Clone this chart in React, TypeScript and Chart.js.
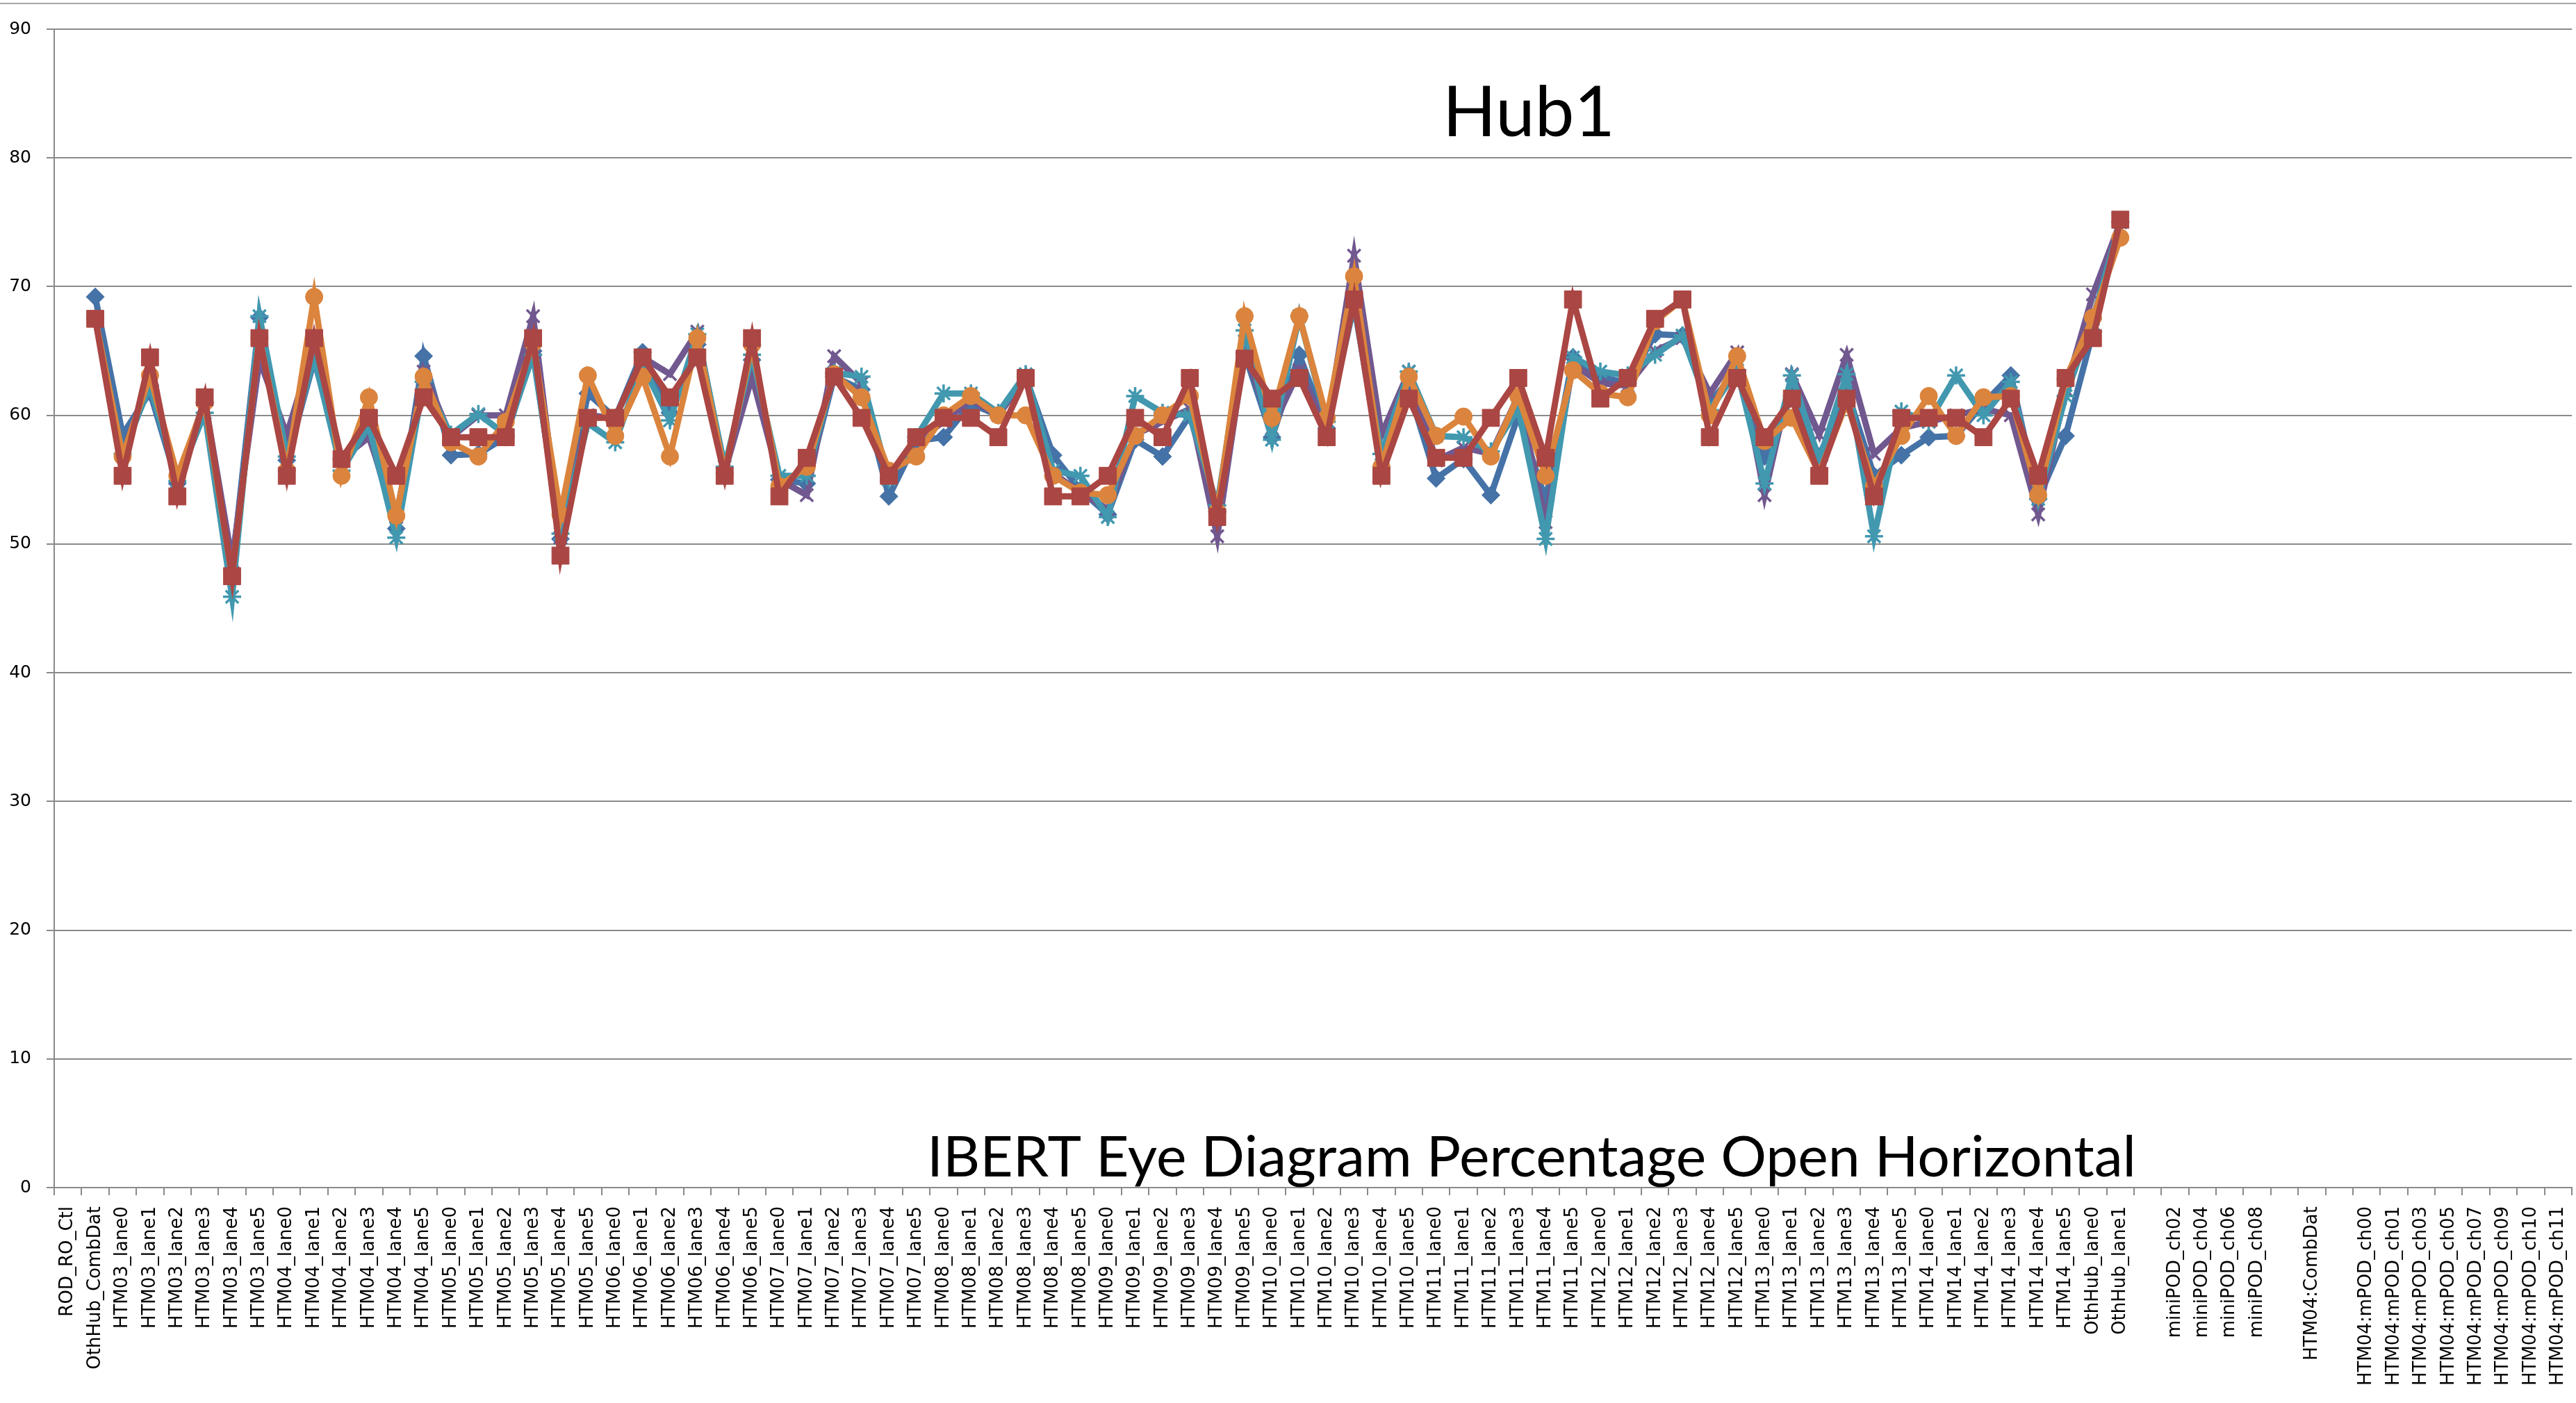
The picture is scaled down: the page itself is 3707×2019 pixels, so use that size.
import React, { useEffect, useRef } from "react";
import { Chart, registerables } from "chart.js";

Chart.register(...registerables);

const categories = [
  "ROD_RO_Ctl", "OthHub_CombDat",
  "HTM03_lane0", "HTM03_lane1", "HTM03_lane2", "HTM03_lane3", "HTM03_lane4", "HTM03_lane5",
  "HTM04_lane0", "HTM04_lane1", "HTM04_lane2", "HTM04_lane3", "HTM04_lane4", "HTM04_lane5",
  "HTM05_lane0", "HTM05_lane1", "HTM05_lane2", "HTM05_lane3", "HTM05_lane4", "HTM05_lane5",
  "HTM06_lane0", "HTM06_lane1", "HTM06_lane2", "HTM06_lane3", "HTM06_lane4", "HTM06_lane5",
  "HTM07_lane0", "HTM07_lane1", "HTM07_lane2", "HTM07_lane3", "HTM07_lane4", "HTM07_lane5",
  "HTM08_lane0", "HTM08_lane1", "HTM08_lane2", "HTM08_lane3", "HTM08_lane4", "HTM08_lane5",
  "HTM09_lane0", "HTM09_lane1", "HTM09_lane2", "HTM09_lane3", "HTM09_lane4", "HTM09_lane5",
  "HTM10_lane0", "HTM10_lane1", "HTM10_lane2", "HTM10_lane3", "HTM10_lane4", "HTM10_lane5",
  "HTM11_lane0", "HTM11_lane1", "HTM11_lane2", "HTM11_lane3", "HTM11_lane4", "HTM11_lane5",
  "HTM12_lane0", "HTM12_lane1", "HTM12_lane2", "HTM12_lane3", "HTM12_lane4", "HTM12_lane5",
  "HTM13_lane0", "HTM13_lane1", "HTM13_lane2", "HTM13_lane3", "HTM13_lane4", "HTM13_lane5",
  "HTM14_lane0", "HTM14_lane1", "HTM14_lane2", "HTM14_lane3", "HTM14_lane4", "HTM14_lane5",
  "OthHub_lane0", "OthHub_lane1",
  "",
  "miniPOD_ch02", "miniPOD_ch04", "miniPOD_ch06", "miniPOD_ch08",
  "",
  "HTM04:CombDat",
  "",
  "HTM04:mPOD_ch00", "HTM04:mPOD_ch01", "HTM04:mPOD_ch03", "HTM04:mPOD_ch05",
  "HTM04:mPOD_ch07", "HTM04:mPOD_ch09", "HTM04:mPOD_ch10", "HTM04:mPOD_ch11",
];

const yTicks = [0, 10, 20, 30, 40, 50, 60, 70, 80, 90];

const chartTitle = "Hub1";
const axisCaption = "IBERT Eye Diagram Percentage Open Horizontal";

const seriesNames = ["Series 1", "Series 2", "Series 3", "Series 4", "Series 5"];

// blue diamonds
const series1 = [
  null, 69.2,
  58.5, 61.8, 54.7, 61.0, 48.0, 67.6,
  56.5, 64.3, 56.6, 58.6, 51.2, 64.6,
  56.9, 57.0, 58.3, 65.0, 50.4, 61.7,
  59.8, 64.9, 60.2, 65.5, 55.5, 64.3,
  55.0, 54.7, 63.0, 62.0, 53.7, 58.0,
  58.3, 60.9, 60.0, 63.0, 56.9, 54.2,
  52.3, 58.1, 56.8, 60.0, 52.5, 64.8,
  58.3, 64.7, 59.0, 68.6, 56.0, 62.0,
  55.1, 56.6, 53.8, 60.0, 53.4, 64.5,
  63.0, 62.5, 66.3, 66.2, 61.0, 63.5,
  56.8, 61.5, 56.8, 62.0, 55.3, 56.9,
  58.3, 58.4, 60.9, 63.1, 53.5, 58.4,
  66.5, 75.0,
];

// purple crosses
const series2 = [
  null, 67.5,
  57.0, 63.0, 54.8, 61.2, 48.7, 64.3,
  58.5, 65.5, 56.6, 58.3, 52.1, 63.4,
  58.3, 60.0, 60.0, 67.7, 50.5, 60.0,
  59.8, 64.5, 63.2, 66.5, 55.6, 63.0,
  55.0, 53.8, 64.6, 62.5, 55.0, 58.0,
  59.5, 61.2, 60.0, 63.0, 55.5, 54.0,
  52.7, 58.5, 59.5, 60.5, 50.6, 65.0,
  59.0, 63.5, 59.0, 72.4, 58.5, 63.4,
  56.5, 57.5, 57.0, 61.5, 51.7, 64.0,
  62.5, 62.3, 65.0, 66.0, 61.7, 64.9,
  53.8, 63.2, 58.5, 64.7, 57.0, 59.0,
  59.5, 60.0, 60.5, 60.0, 52.3, 62.0,
  69.4, 75.0,
];

// teal stars
const series3 = [
  null, 67.5,
  57.0, 62.3, 54.9, 60.2, 45.9, 67.7,
  56.8, 64.5, 55.7, 59.2, 50.5, 62.6,
  58.5, 60.1, 58.5, 64.7, 50.8, 59.4,
  57.9, 63.9, 59.6, 66.3, 56.0, 64.7,
  55.3, 55.3, 63.3, 63.0, 55.0, 58.3,
  61.7, 61.7, 60.2, 63.2, 55.7, 55.3,
  52.1, 61.5, 60.2, 60.0, 53.0, 66.6,
  58.1, 67.7, 59.5, 68.6, 57.0, 63.4,
  58.4, 58.3, 57.2, 60.5, 50.4, 64.5,
  63.4, 63.1, 64.7, 66.2, 60.4, 63.5,
  54.7, 63.1, 56.5, 63.2, 50.6, 60.3,
  59.5, 63.1, 60.0, 62.6, 53.5, 61.5,
  67.5, 75.0,
];

// orange circles
const series4 = [
  null, 67.5,
  56.8, 63.1, 55.3, 61.0, 47.5, 66.0,
  55.7, 69.2, 55.3, 61.4, 52.2, 63.0,
  57.9, 56.8, 59.5, 65.6, 52.3, 63.1,
  58.4, 63.0, 56.8, 66.0, 55.5, 65.5,
  54.5, 56.0, 63.2, 61.4, 55.7, 56.8,
  60.0, 61.5, 60.0, 60.0, 55.3, 54.0,
  53.8, 58.4, 60.0, 61.5, 52.5, 67.7,
  59.8, 67.7, 59.8, 70.8, 56.0, 63.0,
  58.4, 59.9, 56.8, 61.5, 55.3, 63.5,
  61.7, 61.4, 67.3, 69.0, 60.0, 64.6,
  58.0, 59.8, 55.5, 61.0, 54.5, 58.4,
  61.5, 58.4, 61.4, 61.5, 53.8, 62.8,
  67.6, 73.8,
];

// dark red squares
const series5 = [
  null, 67.5,
  55.3, 64.5, 53.7, 61.4, 47.5, 66.0,
  55.3, 66.0, 56.6, 59.8, 55.3, 61.4,
  58.3, 58.3, 58.3, 66.0, 49.1, 59.8,
  59.8, 64.5, 61.4, 64.5, 55.3, 66.0,
  53.7, 56.7, 63.0, 59.8, 55.3, 58.3,
  59.8, 59.8, 58.3, 62.9, 53.7, 53.7,
  55.3, 59.8, 58.3, 62.9, 52.1, 64.4,
  61.3, 62.9, 58.3, 69.0, 55.3, 61.3,
  56.7, 56.7, 59.8, 62.9, 56.7, 69.0,
  61.3, 62.9, 67.5, 69.0, 58.3, 62.9,
  58.3, 61.3, 55.3, 61.3, 53.7, 59.8,
  59.8, 59.8, 58.3, 61.3, 55.3, 62.9,
  66.0, 75.2,
];

const overlayPlugin = {
  id: "overlayText",
  beforeDraw(chart: any) {
    const ctx = chart.ctx;
    ctx.save();
    ctx.fillStyle = "#ffffff";
    ctx.fillRect(0, 0, chart.width, chart.height);
    ctx.strokeStyle = "#a6a6a6";
    ctx.lineWidth = 2;
    ctx.beginPath();
    ctx.moveTo(0, 5);
    ctx.lineTo(chart.width, 5);
    ctx.stroke();
    ctx.restore();
  },
  afterDraw(chart: any) {
    const ctx = chart.ctx;
    const drawFit = (text: string, cx: number, baseline: number, width: number) => {
      ctx.font = "100px Lato";
      const w = ctx.measureText(text).width;
      const size = (100 * width) / w;
      ctx.font = `${size}px Lato`;
      ctx.fillStyle = "#000000";
      ctx.textAlign = "center";
      ctx.textBaseline = "alphabetic";
      ctx.fillText(text, cx, baseline);
    };
    ctx.save();
    drawFit(chartTitle, 2200, 196, 248);
    drawFit(axisCaption, 2204, 1693, 1740);
    ctx.restore();
  },
};

function makeSeries(
  label: string,
  data: (number | null)[],
  color: string,
  pointStyle: string,
  pointRadius: number,
  pointBorderWidth: number,
  order: number
) {
  return {
    label,
    data,
    borderColor: color,
    backgroundColor: color,
    borderWidth: 9,
    pointStyle,
    pointRadius,
    pointBorderWidth,
    pointBackgroundColor: color,
    pointBorderColor: color,
    tension: 0,
    order,
  };
}

export default function App() {
  const canvasRef = useRef<HTMLCanvasElement | null>(null);

  useEffect(() => {
    document.body.style.margin = "0";
    const canvas = canvasRef.current;
    if (!canvas) return;
    const gridColor = "#8a8a8a";
    const chart = new Chart(canvas, {
      type: "line",
      data: {
        labels: categories,
        datasets: [
          makeSeries(seriesNames[0], series1, "#4572A7", "rectRot", 13, 1, 4),
          makeSeries(seriesNames[1], series2, "#71588F", "crossRot", 13, 3.5, 3),
          makeSeries(seriesNames[2], series3, "#4198AF", "star", 13, 3.5, 2),
          makeSeries(seriesNames[3], series4, "#DB843D", "circle", 12.5, 1, 1),
          makeSeries(seriesNames[4], series5, "#AA4643", "rect", 17.5, 1, 0),
        ] as any,
      },
      options: {
        animation: false,
        responsive: false,
        devicePixelRatio: 1,
        events: [],
        layout: { autoPadding: false, padding: { top: 42, right: 6, left: 0, bottom: 0 } },
        plugins: {
          legend: { display: false },
          tooltip: { enabled: false },
          title: { display: false },
        },
        scales: {
          x: {
            type: "category",
            offset: true,
            grid: {
              offset: true,
              drawOnChartArea: false,
              drawTicks: true,
              tickLength: 11,
              color: gridColor,
              lineWidth: 2,
            },
            border: { display: true, color: gridColor, width: 2 },
            ticks: {
              autoSkip: false,
              maxRotation: 90,
              minRotation: 90,
              padding: 16,
              color: "#000000",
              font: { family: "DejaVu Sans", size: 26 },
            },
            afterFit: (scale: any) => {
              scale.height = 310;
              scale.paddingLeft = 0;
              scale.paddingRight = 0;
            },
          },
          y: {
            min: 0,
            max: 90,
            afterBuildTicks: (scale: any) => {
              scale.ticks = yTicks.map((v) => ({ value: v }));
            },
            grid: {
              color: gridColor,
              lineWidth: 2,
              drawTicks: true,
              tickLength: 11,
            },
            border: { display: true, color: gridColor, width: 2 },
            ticks: {
              padding: 22,
              color: "#000000",
              font: { family: "DejaVu Sans", size: 25 },
            },
            afterFit: (scale: any) => {
              scale.width = 78;
            },
          },
        },
      },
      plugins: [overlayPlugin],
    });
    return () => chart.destroy();
  }, []);

  return <canvas ref={canvasRef} width={3707} height={2019} style={{ display: "block" }} />;
}
